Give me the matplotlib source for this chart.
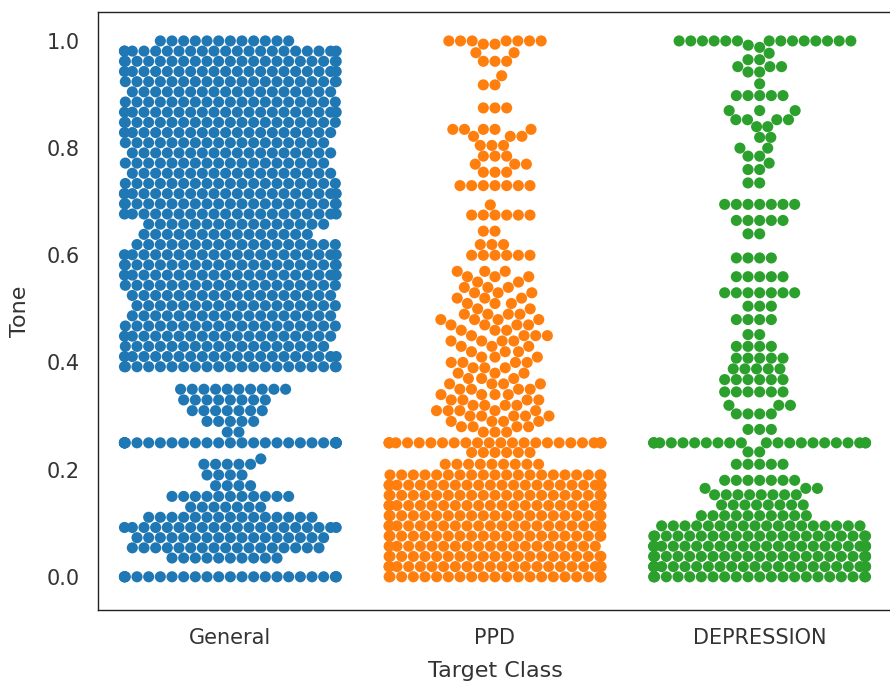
import warnings
import numpy as np
import pandas as pd
import matplotlib
matplotlib.use("Agg")
import matplotlib.pyplot as plt
import seaborn as sns

warnings.filterwarnings("ignore")

# categories and colours
classes = ["General", "PPD", "DEPRESSION"]
colors = ["#1f77b4", "#ff7f0e", "#2ca02c"]
yticks = [0.0, 0.2, 0.4, 0.6, 0.8, 1.0]

general_tone = [1.000, 0.981, 0.962, 0.943, 0.924, 0.905, 0.886, 0.867, 0.848, 0.829,
                0.810, 0.791, 0.772, 0.753, 0.734, 0.715, 0.696, 0.677, 0.658, 0.639,
                0.620, 0.601, 0.582, 0.563, 0.544, 0.525, 0.506, 0.487, 0.468, 0.449,
                0.430, 0.411, 0.392,
                0.35, 0.33, 0.31, 0.29, 0.27, 0.25,
                0.22, 0.21, 0.19, 0.17, 0.15, 0.13, 0.111, 0.092, 0.073, 0.054,
                0.035, 0.00]
general_count = [12, 21, 21, 20, 20, 18, 19, 20, 20, 19,
                 18, 18, 18, 18, 19, 21, 21, 20, 16, 15,
                 18, 20, 21, 20, 19, 18, 18, 18, 19, 19,
                 18, 20, 21,
                 10, 8, 7, 5, 2, 28,
                 1, 5, 4, 4, 11, 7, 15, 20, 17, 17,
                 10, 24]

ppd_tone = [1.00, 0.994, 0.978, 0.962, 0.935, 0.918, 0.875, 0.835, 0.822, 0.805,
            0.785, 0.77, 0.755, 0.73, 0.694, 0.675, 0.645, 0.62, 0.60,
            0.57, 0.56, 0.55, 0.54, 0.53, 0.52, 0.51, 0.50, 0.49, 0.48,
            0.47, 0.46, 0.45, 0.44, 0.43, 0.42, 0.41, 0.40, 0.39, 0.38,
            0.37, 0.36, 0.35, 0.34, 0.33, 0.32, 0.31, 0.30, 0.29, 0.28,
            0.27, 0.25, 0.232, 0.21, 0.19, 0.171, 0.152, 0.133, 0.114, 0.095,
            0.076, 0.057, 0.038, 0.019, 0.00]
ppd_count = [7, 2, 2, 3, 1, 2, 3, 5, 3, 3,
             3, 3, 3, 7, 1, 6, 2, 3, 6,
             3, 3, 2, 3, 3, 3, 3, 2, 4, 4,
             4, 3, 4, 4, 3, 3, 3, 4, 3, 3,
             3, 4, 4, 4, 4, 4, 5, 5, 4, 4,
             3, 24, 6, 9, 20, 22, 22, 22, 21, 21,
             21, 19, 21, 22, 22]

depression_tone = [1.00, 0.992, 0.988, 0.977, 0.965, 0.952, 0.942, 0.92, 0.898, 0.87,
                   0.853, 0.84, 0.82, 0.80, 0.785, 0.772, 0.76, 0.735, 0.695, 0.665,
                   0.64, 0.595, 0.56, 0.53, 0.505, 0.48, 0.452, 0.43, 0.408, 0.388,
                   0.368, 0.345, 0.32, 0.304, 0.275, 0.25, 0.233, 0.21, 0.18, 0.165,
                   0.153, 0.134, 0.114, 0.095, 0.076, 0.057, 0.038, 0.019, 0.00]
depression_count = [14, 1, 1, 1, 2, 3, 2, 1, 5, 3,
                    4, 2, 2, 2, 2, 1, 2, 2, 7, 5,
                    2, 4, 5, 7, 3, 4, 2, 4, 5, 5,
                    6, 6, 3, 4, 3, 22, 2, 5, 7, 3,
                    8, 8, 10, 18, 21, 23, 23, 23, 22]

frames = []
for name, tone, count in [("General", general_tone, general_count),
                          ("PPD", ppd_tone, ppd_count),
                          ("DEPRESSION", depression_tone, depression_count)]:
    frames.append(pd.DataFrame({"Target Class": name,
                                "Tone": np.repeat(tone, count)}))
df = pd.concat(frames, ignore_index=True)

sns.set_style("white")
plt.rcParams["font.family"] = ["DejaVu Sans"]

fig = plt.figure(figsize=(8.9, 6.81), dpi=100)
ax = fig.add_axes([98 / 890, 71 / 681, 794 / 890, 598 / 681])
ax.set_xlim(-0.5, 2.5)
ax.set_ylim(-0.062, 1.054)

sns.swarmplot(data=df, x="Target Class", y="Tone", hue="Target Class",
              order=classes, hue_order=classes, palette=colors,
              size=8, linewidth=0, ax=ax)
if ax.get_legend() is not None:
    ax.get_legend().remove()

ax.set_xlim(-0.5, 2.5)
ax.set_ylim(-0.062, 1.054)
ax.set_yticks(yticks)
ax.set_yticklabels(["%.1f" % t for t in yticks])
ax.tick_params(length=0, pad=13, labelsize=15, colors="#333333")
ax.set_xlabel("Target Class", fontsize=16, color="#333333", labelpad=9)
ax.set_ylabel("Tone", fontsize=16, color="#333333", labelpad=12)
for sp in ax.spines.values():
    sp.set_color("#222222")
    sp.set_linewidth(1.0)

fig.savefig("out.png", dpi=100)
